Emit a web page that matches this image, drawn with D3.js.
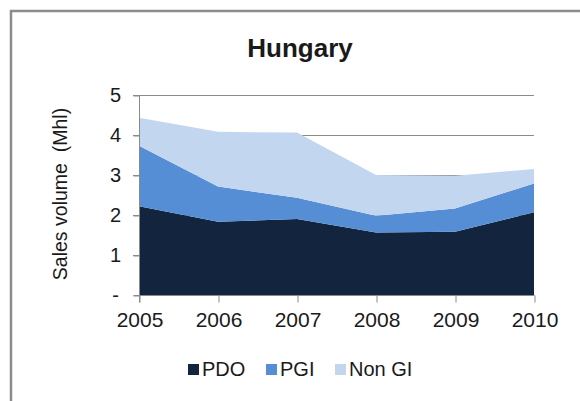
<!DOCTYPE html>
<html><head><meta charset="utf-8">
<script src="https://cdn.jsdelivr.net/npm/d3@7"></script>
<style>body{margin:0;background:#fff}svg{display:block}text{font-family:"Liberation Sans",Arial,sans-serif;fill:#1a1a1a}</style>
</head><body><svg id="c" width="580" height="401"></svg>
<script>
const years = ["2005","2006","2007","2008","2009","2010"];
const pdo   = [2.22, 1.83, 1.90, 1.56, 1.58, 2.07];
const pgi   = [1.51, 0.88, 0.53, 0.42, 0.58, 0.72];
const nonGi = [0.70, 1.37, 1.63, 1.02, 0.82, 0.36];
const seriesNames = ["PDO","PGI","Non GI"];
const colors = ["#13243f","#558ed5","#c3d6f0"];
const yTicks = [0,1,2,3,4,5];
const tickLabels = ["-","1","2","3","4","5"];

const svg = d3.select("#c");
// outer frame
svg.append("path").attr("d","M11,401 V11 H580").attr("fill","none").attr("stroke","#8c8c8c").attr("stroke-width",2.5);

const x = d3.scalePoint().domain(years).range([139,534]);
const y = d3.scaleLinear().domain([0,5]).range([295,95]);

// gridlines
svg.append("g").selectAll("line").data(yTicks.filter(d=>d>0)).join("line")
  .attr("x1",133).attr("x2",534).attr("y1",d=>y(d)+0.5).attr("y2",d=>y(d)+0.5)
  .attr("stroke","#8a8a8a").attr("stroke-width",1);

const table = years.map((yr,i)=>({year:yr, "PDO":pdo[i], "PGI":pgi[i], "Non GI":nonGi[i]}));
const stacked = d3.stack().keys(seriesNames)(table);
const area = d3.area().x(d=>x(d.data.year)).y0(d=>y(d[0])).y1(d=>y(d[1]));
svg.append("g").selectAll("path").data(stacked).join("path")
  .attr("d",area).attr("fill",(d,i)=>colors[i]);

// y axis
const yAxis = svg.append("g").attr("transform","translate(139.5,0.5)")
  .call(d3.axisLeft(y).tickValues(yTicks).tickFormat((d,i)=>tickLabels[i]).tickSize(6).tickPadding(24));
yAxis.select(".domain").attr("stroke","#8a8a8a").attr("d","M0,"+(y(5)-0.5)+"V"+(y(0)+7));
yAxis.selectAll(".tick line").attr("stroke","#8a8a8a");
yAxis.selectAll(".tick text").attr("font-size",20).attr("fill","#1a1a1a").attr("font-family","Liberation Sans, Arial, sans-serif").attr("text-anchor","middle").attr("dx",6);

// x axis
const xAxis = svg.append("g").attr("transform","translate(0.5,"+(y(0)+0.5)+")")
  .call(d3.axisBottom(x).tickSize(7).tickPadding(10));
xAxis.select(".domain").attr("stroke","#8a8a8a").attr("d","M133,0H534");
xAxis.selectAll(".tick line").attr("stroke","#8a8a8a");
xAxis.selectAll(".tick text").attr("font-size",21).attr("fill","#1a1a1a").attr("font-family","Liberation Sans, Arial, sans-serif");

// title
svg.append("text").attr("x",300).attr("y",57).attr("text-anchor","middle")
  .attr("font-size",26).attr("font-weight","bold").text("Hungary");

// y label
svg.append("text").attr("transform","translate(67,194) rotate(-90)").attr("text-anchor","middle")
  .attr("font-size",19.5).attr("xml:space","preserve").style("white-space","pre").text("Sales volume  (Mhl)");

// legend
const legX = [188,266,335];
const lg = svg.append("g").selectAll("g").data(seriesNames).join("g")
  .attr("transform",(d,i)=>"translate("+legX[i]+",364)");
lg.append("rect").attr("width",11).attr("height",11).attr("fill",(d,i)=>colors[i]);
lg.append("text").attr("x",14).attr("y",12).attr("font-size",20).text(d=>d);
</script></body></html>
